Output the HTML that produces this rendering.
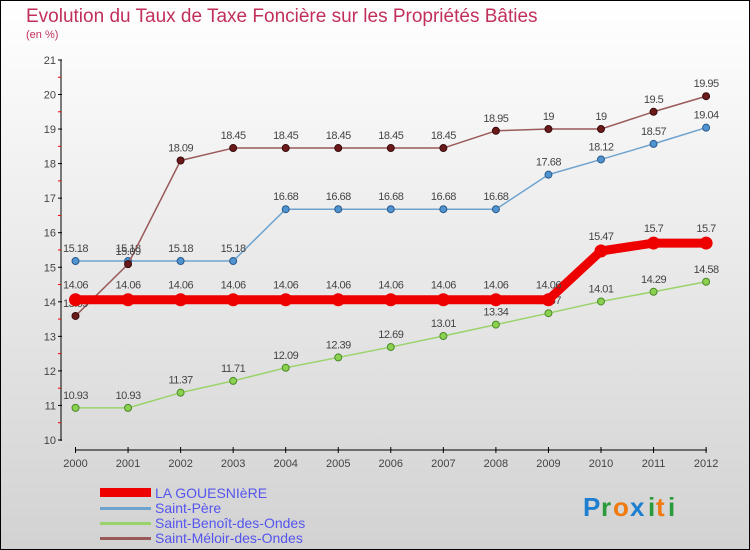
<!DOCTYPE html>
<html><head><meta charset="utf-8"><style>
body{margin:0;}
#wrap{width:750px;height:550px;position:relative;box-sizing:border-box;border:1px solid #000;background:linear-gradient(#ffffff,#d2d2d2);overflow:hidden;font-family:"Liberation Sans",sans-serif;}
</style></head><body>
<div id="wrap">
<svg id="chart" width="750" height="550" style="position:absolute;left:-1px;top:-1px">
<text x="26" y="22" font-size="19" fill="#c0305a">Evolution du Taux de Taxe Foncière sur les Propriétés Bâties</text>
<text x="26" y="38" font-size="11" fill="#c0305a">(en %)</text>
<g id="axes"></g><g id="series"></g>
<g>
<rect x="100" y="488" width="51" height="9" fill="#e00"/>
<text x="155" y="498" font-size="14" fill="#5555ee">LA GOUESNIèRE</text>
<rect x="100" y="507" width="51" height="3" fill="#6fa3cf"/>
<text x="155" y="513" font-size="14" fill="#5555ee">Saint-Père</text>
<rect x="100" y="522" width="51" height="3" fill="#9ad36a"/>
<text x="155" y="528" font-size="14" fill="#5555ee">Saint-Benoît-des-Ondes</text>
<rect x="100" y="537" width="51" height="3" fill="#9a5a5a"/>
<text x="155" y="543" font-size="14" fill="#5555ee">Saint-Méloir-des-Ondes</text>
</g>
<g font-size="26" font-weight="bold">
<text x="583" y="516" fill="#1e7fd0">P</text><text x="601" y="516" fill="#2a9a3a">r</text><text x="613" y="516" fill="#f07a10">o</text><text x="630" y="516" fill="#1e7fd0">x</text><text x="648" y="516" fill="#2a9a3a">i</text><text x="656" y="516" fill="#f07a10">t</text><text x="668" y="516" fill="#2a9a3a">i</text>
</g>
</svg>
</div>
<script>
const years=[2000,2001,2002,2003,2004,2005,2006,2007,2008,2009,2010,2011,2012];
const laGouesniere=[14.06,14.06,14.06,14.06,14.06,14.06,14.06,14.06,14.06,14.06,15.47,15.7,15.7];
const saintPere=[15.18,15.18,15.18,15.18,16.68,16.68,16.68,16.68,16.68,17.68,18.12,18.57,19.04];
const saintBenoit=[10.93,10.93,11.37,11.71,12.09,12.39,12.69,13.01,13.34,13.67,14.01,14.29,14.58];
const saintMeloir=[13.59,15.09,18.09,18.45,18.45,18.45,18.45,18.45,18.95,19,19,19.5,19.95];
const yTicks=[10,11,12,13,14,15,16,17,18,19,20,21];
const NS="http://www.w3.org/2000/svg";
const x=i=>75.5+i*52.55;
const y=v=>440-(v-10)*34.55;
function mk(tag,attrs,parent,txt){const e=document.createElementNS(NS,tag);for(const k in attrs)e.setAttribute(k,attrs[k]);if(txt!==undefined)e.textContent=txt;parent.appendChild(e);return e;}
const ax=document.getElementById('axes');
let e=mk('line',{x1:61,y1:60,x2:61,y2:441,stroke:'#000'},ax);


e=mk('line',{x1:75,y1:450,x2:707,y2:450,stroke:'#000'},ax);


yTicks.forEach(t=>{
  mk('line',{x1:58,y1:y(t),x2:62,y2:y(t),stroke:'#000'},ax);
  if(t<21)mk('line',{x1:58,y1:y(t+0.5),x2:61,y2:y(t+0.5),stroke:'#e00'},ax);
  const l=mk('text',{x:56,y:y(t)+4,'font-size':11,fill:'#444','text-anchor':'end'},ax,t);
  
  
});
years.forEach((yr,i)=>{
  mk('line',{x1:x(i),y1:447,x2:x(i),y2:453,stroke:'#000'},ax);
  const l=mk('text',{x:x(i),y:467,'font-size':11,fill:'#444','text-anchor':'middle'},ax,yr);
  
  
});
const sg=document.getElementById('series');
function series(name,vals,color,w,r,fill,stroke,labelDy){
  const g=mk('g',{},sg);
  
  
  mk('polyline',{points:vals.map((v,i)=>x(i)+','+y(v)).join(' '),fill:'none',stroke:color,'stroke-width':w,'stroke-linejoin':'round'},g);
  vals.forEach((v,i)=>{
    const c=mk('circle',{cx:x(i),cy:y(v),r:r,fill:fill,stroke:stroke,'stroke-width':1},g);
    
    
    const t=mk('text',{x:x(i),y:y(v)+labelDy,'font-size':11,fill:'#444','text-anchor':'middle','letter-spacing':'-0.5'},g,v);
    
    
  });
}
series('saint-benoit',saintBenoit,'#9ad36a',1.5,3.5,'#8bd04e','#4a8a2a',-9);
series('saint-pere',saintPere,'#6fa3cf',1.5,3.5,'#4f93d0','#2a5a8a',-9);
series('saint-meloir',saintMeloir,'#9a5a5a',1.5,3.5,'#6a1a1a','#3a0a0a',-9);
series('la-gouesniere',laGouesniere,'#ee0000',9,6,'#ee0000','#ee0000',-11);
</script>
</body></html>
